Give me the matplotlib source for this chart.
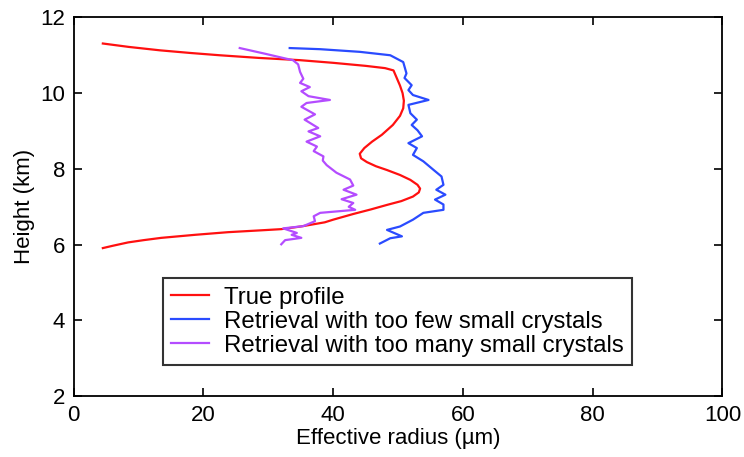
import numpy as np
import matplotlib.pyplot as plt

plt.rcParams['font.family'] = ['Liberation Sans', 'DejaVu Sans']

# Effective radius (um) vs height (km), listed from cloud top down
true_r = [4.5, 8.5, 13.3, 18.0, 22.5, 28.5, 34.9, 40.0, 45.0, 48.0, 49.3,
          49.8, 50.3, 50.7, 50.9, 50.8, 50.3, 49.2, 47.5, 46.0, 44.8, 44.1,
          44.3, 45.2, 46.6, 48.3, 50.3, 51.9, 53.0, 53.4, 53.2, 52.3, 50.5,
          48.3, 45.8, 43.1, 40.0, 38.7, 35.0, 32.0, 29.0, 23.8, 18.7, 13.5,
          10.8, 8.4, 6.0, 4.5]
true_h = [11.31, 11.22, 11.13, 11.06, 11.00, 10.93, 10.87, 10.80, 10.72, 10.66, 10.60,
          10.40, 10.20, 10.00, 9.80, 9.60, 9.40, 9.16, 8.90, 8.72, 8.55, 8.40,
          8.28, 8.18, 8.07, 7.97, 7.84, 7.71, 7.58, 7.48, 7.38, 7.27, 7.15,
          7.05, 6.93, 6.81, 6.66, 6.59, 6.48, 6.41, 6.38, 6.33, 6.26, 6.18,
          6.12, 6.06, 5.97, 5.91]

few_r = [33.3, 38.0, 44.1, 48.8, 50.8, 51.3, 51.0, 52.1, 51.6, 52.3, 54.7,
         51.6, 51.9, 52.9, 52.1, 53.0, 53.7, 51.6, 52.9, 52.3, 53.9, 55.5,
         56.7, 57.0, 55.9, 57.3, 55.7, 57.0, 57.0, 53.9, 52.3, 50.3, 48.3,
         50.6, 48.8, 47.2]
few_h = [11.19, 11.16, 11.09, 11.00, 10.82, 10.52, 10.40, 10.21, 10.08, 9.95, 9.82,
         9.69, 9.47, 9.30, 9.16, 9.02, 8.86, 8.68, 8.55, 8.37, 8.20, 7.97,
         7.80, 7.58, 7.45, 7.32, 7.19, 7.06, 6.92, 6.84, 6.66, 6.48, 6.39,
         6.22, 6.17, 6.03]

many_r = [25.6, 29.5, 32.5, 33.8, 34.6, 34.9, 35.4, 34.9, 36.4, 35.1, 36.2,
          39.5, 35.9, 35.1, 37.2, 35.6, 37.7, 36.2, 38.0, 35.9, 37.5, 37.0,
          38.5, 38.4, 39.0, 40.5, 42.6, 43.1, 41.6, 43.6, 41.3, 43.1, 42.4,
          43.4, 38.0, 37.0, 37.2, 35.4, 32.3, 34.4, 33.6, 35.1, 32.6, 32.0]
many_h = [11.19, 11.04, 10.92, 10.87, 10.76, 10.56, 10.38, 10.27, 10.16, 10.05, 9.92,
          9.82, 9.74, 9.64, 9.44, 9.30, 9.08, 8.99, 8.86, 8.72, 8.59, 8.47,
          8.33, 8.22, 8.10, 7.90, 7.72, 7.56, 7.45, 7.32, 7.20, 7.10, 7.00,
          6.92, 6.84, 6.75, 6.62, 6.49, 6.43, 6.31, 6.26, 6.18, 6.12, 6.01]

labels = ['True profile',
          'Retrieval with too few small crystals',
          'Retrieval with too many small crystals']

fig = plt.figure(figsize=(7.44, 4.57), dpi=100)
ax = fig.add_axes([0.099, 0.133, 0.872, 0.829])

ax.plot(true_r, true_h, color='#ff1010', lw=1.6, label=labels[0])
ax.plot(few_r, few_h, color='#2a4bff', lw=1.6, label=labels[1])
ax.plot(many_r, many_h, color='#b44cff', lw=1.6, label=labels[2])

ax.set_xlim(0, 100)
ax.set_ylim(2, 12)
ax.set_xticks(np.arange(0, 101, 20))
ax.set_yticks(np.arange(2, 13, 2))
ax.tick_params(direction='in', top=True, right=True, length=6, width=1.2,
               labelsize=16, pad=6)
for s in ax.spines.values():
    s.set_linewidth(1.3)

ax.set_xlabel('Effective radius (\u00b5m)', fontsize=16, labelpad=2)
ax.set_ylabel('Height (km)', fontsize=16, labelpad=4)

leg = ax.legend(loc='upper left', bbox_to_anchor=(0.137, 0.311), fontsize=17.3,
                frameon=True, fancybox=False, edgecolor='black',
                handlelength=1.6, handletextpad=0.6, labelspacing=0.08,
                borderpad=0.35, borderaxespad=0)
leg.get_frame().set_linewidth(1.5)

fig.savefig('out.png', dpi=100)
